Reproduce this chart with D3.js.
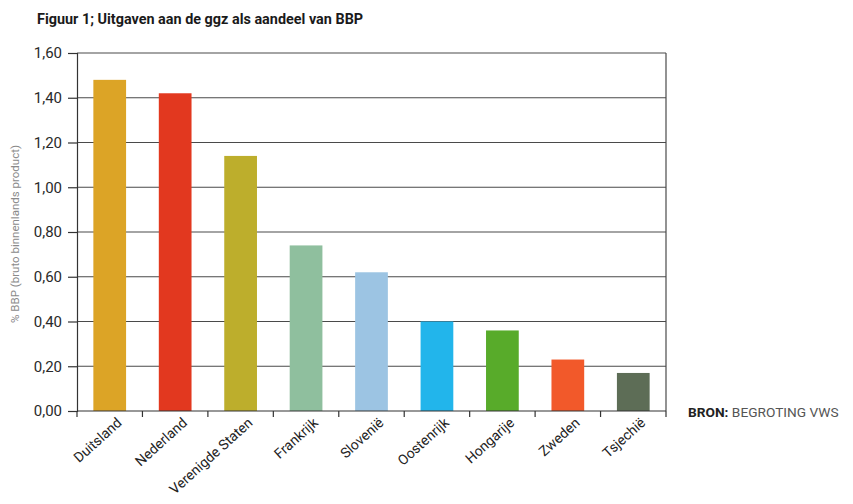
<!DOCTYPE html>
<html>
<head>
<meta charset="utf-8">
<script src="https://cdn.jsdelivr.net/npm/d3@7"></script>
<style>
  body { margin: 0; background: #fff; }
  svg { display: block; }
</style>
</head>
<body>
<svg id="chart" width="853" height="504"></svg>
<script>
// data
const countries = ["Duitsland", "Nederland", "Verenigde Staten", "Frankrijk", "Slovenië",
  "Oostenrijk", "Hongarije", "Zweden", "Tsjechië"];
const share = [1.48, 1.42, 1.14, 0.74, 0.62, 0.40, 0.36, 0.23, 0.17];
const barColors = ["#dca426", "#e2381f", "#bdae2c", "#8fbf9e", "#9cc4e3",
  "#22b5eb", "#58ab2a", "#f2592a", "#5d6d56"];
const yTicks = [0, 0.2, 0.4, 0.6, 0.8, 1.0, 1.2, 1.4, 1.6];

const title = "Figuur 1; Uitgaven aan de ggz als aandeel van BBP";
const yLabel = "% BBP (bruto binnenlands product)";

const margin = { top: 53, right: 187, bottom: 93, left: 77 };
const width = 853, height = 504;
const w = width - margin.left - margin.right;
const h = height - margin.top - margin.bottom;

const svg = d3.select("#chart");
const g = svg.append("g").attr("transform", `translate(${margin.left},${margin.top})`);

const x = d3.scaleBand().domain(countries).range([0, w]).paddingInner(0.5).paddingOuter(0.25);
const y = d3.scaleLinear().domain([0, 1.6]).range([h, 0]);
const fmt = (d) => d3.format(".2f")(d).replace(".", ",");

// title
svg.append("text")
  .attr("x", 37).attr("y", 24)
  .attr("font-family", "Roboto, sans-serif")
  .attr("font-weight", "bold")
  .attr("font-size", 14.4)
  .attr("fill", "#1a1a1a")
  .text(title);

// gridlines
g.append("g")
  .selectAll("line")
  .data(yTicks.filter((d) => d > 0))
  .join("line")
  .attr("x1", 0).attr("x2", w)
  .attr("y1", (d) => y(d)).attr("y2", (d) => y(d))
  .attr("stroke", "#4a4a4a")
  .attr("stroke-width", 1.2);

// right border
g.append("line")
  .attr("x1", w).attr("x2", w)
  .attr("y1", 0).attr("y2", h)
  .attr("stroke", "#4a4a4a").attr("stroke-width", 1.2);

// bars
g.append("g")
  .selectAll("rect")
  .data(countries)
  .join("rect")
  .attr("x", (d) => x(d))
  .attr("width", x.bandwidth())
  .attr("y", (d, i) => y(share[i]))
  .attr("height", (d, i) => h - y(share[i]))
  .attr("fill", (d, i) => barColors[i]);

// y axis
const yAxis = g.append("g")
  .call(d3.axisLeft(y).tickValues(yTicks).tickFormat(fmt).tickSize(9).tickPadding(6));
yAxis.select(".domain").attr("stroke", "#333").attr("stroke-width", 1.2);
yAxis.selectAll(".tick line").attr("stroke", "#333").attr("stroke-width", 1.2);
yAxis.selectAll("text")
  .attr("font-family", "Roboto, sans-serif")
  .attr("font-size", 15)
  .attr("fill", "#2a2a2a");

// x axis: ticks at band boundaries
const step = x.step();
const bounds = countries.map((d) => x(d) - (step - x.bandwidth()) / 2);
bounds.push(w);
const xAxisG = g.append("g").attr("transform", `translate(0,${h})`);
xAxisG.append("line")
  .attr("x1", 0).attr("x2", w)
  .attr("stroke", "#333").attr("stroke-width", 1.2);
xAxisG.selectAll("line.tk")
  .data(bounds)
  .join("line")
  .attr("class", "tk")
  .attr("x1", (d) => d).attr("x2", (d) => d)
  .attr("y1", 0).attr("y2", 6)
  .attr("stroke", "#333").attr("stroke-width", 1.2);

xAxisG.selectAll("text")
  .data(countries)
  .join("text")
  .attr("transform", (d) => `translate(${x(d) + x.bandwidth() / 2 + 13},${13}) rotate(-42)`)
  .attr("text-anchor", "end")
  .attr("font-family", "Roboto, sans-serif")
  .attr("font-size", 14)
  .attr("fill", "#222")
  .text((d) => d);

// y axis label
svg.append("text")
  .attr("transform", `translate(19,${margin.top + h / 2 + 2}) rotate(-90)`)
  .attr("text-anchor", "middle")
  .attr("font-family", "Roboto, sans-serif")
  .attr("font-size", 11.5)
  .attr("fill", "#8a8a8a")
  .text(yLabel);

// source note
const src = svg.append("text")
  .attr("x", 688).attr("y", 417)
  .attr("font-family", "Roboto, sans-serif")
  .attr("font-size", 13.7);
src.append("tspan").attr("font-weight", "bold").attr("fill", "#222").text("BRON: ");
src.append("tspan").attr("fill", "#555").text("BEGROTING VWS");
</script>
</body>
</html>
